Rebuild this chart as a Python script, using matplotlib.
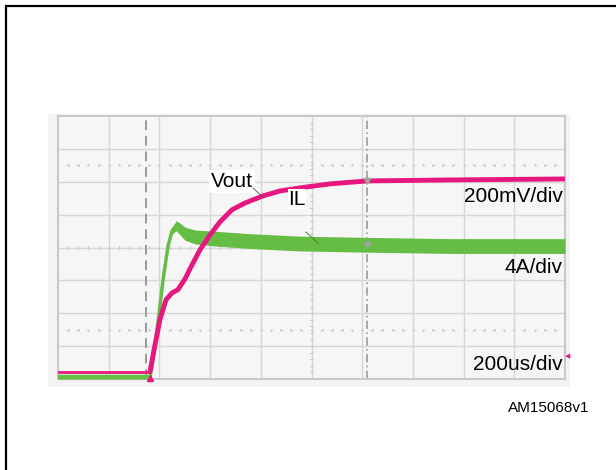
import matplotlib.pyplot as plt
import matplotlib.patches as patches
import numpy as np

plt.rcParams['font.family'] = ['Liberation Sans', 'DejaVu Sans']

# Scope settings
t_per_div = 200.0      # us/div
v_per_div = 0.2        # V/div
i_per_div = 4.0        # A/div
t_left = -363.0        # time at left edge of screen (trigger at 0)
vout_ground = 0.22     # ground marker position, divisions from bottom
il_ground = 0.07

# Vout trace (time in us, volts)
vout_t = [-363, 0, 12, 39, 63, 87, 110, 138, 166, 197, 237, 276, 323,
          375, 446, 513, 592, 710, 856, 1183, 1637]
vout_v = [0.0, 0.0, 0.103, 0.316, 0.438, 0.480, 0.499, 0.565, 0.651, 0.742,
          0.833, 0.912, 0.985, 1.027, 1.070, 1.100, 1.119, 1.143, 1.161,
          1.167, 1.173]

# Inductor current trace (time in us, amps) and ripple half-width
il_t = [-363, 0, 12, 32, 51, 71, 87, 103, 118, 138, 178, 256, 394, 592,
        856, 1183, 1637]
il_a = [0.0, 0.0, 1.95, 6.8, 11.7, 15.9, 17.75, 18.36, 18.0, 17.4, 17.0,
        16.8, 16.5, 16.2, 16.05, 15.9, 15.9]
il_ripple = [0.3, 0.3, 0.1, 0.1, 0.1, 0.2, 0.4, 0.6, 0.7, 0.8, 0.85,
             0.9, 0.9, 0.9, 0.9, 0.9, 0.9]

cursor1_t = -16
cursor2_t = 856

pink = '#E6187F'
green = '#66BD45'
gridc = '#D6D6D6'


def main():
    fig = plt.figure(figsize=(6.16, 4.70), dpi=100)
    W, H = 616.0, 470.0

    # outer frame (top and left visible)
    fig.add_artist(patches.Rectangle((6 / W, -0.1), 1.2, (H - 6) / H + 0.1,
                                     transform=fig.transFigure, fill=False,
                                     edgecolor='black', linewidth=1.6,
                                     zorder=-2))
    # light gray scope panel
    fig.add_artist(patches.Rectangle((48 / W, (H - 387) / H), 522 / W, 273 / H,
                                     transform=fig.transFigure,
                                     facecolor='#F3F3F3', edgecolor='none',
                                     zorder=-1))

    ax = fig.add_axes([58 / W, (H - 379) / H, 507 / W, 263 / H])
    ax.set_facecolor('#F6F6F6')
    t_right = t_left + 10 * t_per_div
    ax.set_xlim(t_left, t_right)
    ax.set_ylim(0, 8)
    ax.set_xticks([])
    ax.set_yticks([])
    for s in ax.spines.values():
        s.set_color('#C9C9C9')
        s.set_linewidth(1.5)

    # graticule
    for k in range(1, 10):
        ax.axvline(t_left + k * t_per_div, color=gridc, lw=1.0, zorder=1)
    for k in range(1, 8):
        ax.axhline(k, color=gridc, lw=1.0, zorder=1)

    # minor ticks on centre axes and dotted lines
    xt = t_left + np.arange(1, 50) * t_per_div / 5
    ax.vlines(xt, 4 - 0.05, 4 + 0.05, color='#C4C4C4', lw=0.8, zorder=1)
    ax.plot(xt, np.full(xt.size, 1.5), ls='none', marker='s', ms=0.8,
            color='#CCCCCC', zorder=1)
    ax.plot(xt, np.full(xt.size, 6.5), ls='none', marker='s', ms=0.8,
            color='#CCCCCC', zorder=1)
    yt = np.arange(1, 40) / 5
    tc = t_left + 5 * t_per_div
    ax.hlines(yt, tc - 4, tc + 4, color='#C4C4C4', lw=0.8, zorder=1)

    # cursors
    ax.axvline(cursor1_t, color='#9A9A9A', lw=1.4, ls=(0, (5, 3)), zorder=2)
    ax.axvline(cursor2_t, color='#9A9A9A', lw=1.2, ls=(0, (5, 2, 1, 2)),
               zorder=2)

    # traces
    il = np.array(il_a) / i_per_div + il_ground
    rip = np.array(il_ripple) / i_per_div
    ax.fill_between(il_t, il - rip, il + rip, color=green, lw=0, zorder=3)
    ax.plot(il_t, il, color=green, lw=2.5, zorder=3)

    vo = np.array(vout_v) / v_per_div + vout_ground
    ax.plot(vout_t[:2], vo[:2], color=pink, lw=2.0, zorder=4)
    ax.plot(vout_t[1:], vo[1:], color=pink, lw=3.5, zorder=4,
            solid_capstyle='butt')

    # cursor markers
    ax.plot([cursor2_t], [vo[-3]], marker='v', ms=5, color='#A0A0A0', zorder=5)
    ax.plot([cursor2_t], [il[-3]], marker='v', ms=5, color='#A0A0A0', zorder=5)
    ax.plot([0], [0.04], marker='^', ms=5, color=pink, zorder=5, clip_on=False)

    # labels
    ax.text(240, 6.0, 'Vout', fontsize=15, ha='left', va='center',
            bbox=dict(facecolor='white', edgecolor='none', pad=1.5), zorder=6)
    ax.plot([406, 446], [5.81, 5.53], color='#555555', lw=0.6, zorder=6)
    ax.text(545, 5.47, 'IL', fontsize=15, ha='left', va='center',
            bbox=dict(facecolor='white', edgecolor='none', pad=0.3), zorder=6)
    ax.plot([615, 663], [4.47, 4.13], color='#3E7A2A', lw=0.6, zorder=6)
    ax.text(0.995, 5.55, '200mV/div', transform=ax.get_yaxis_transform(),
            fontsize=15, ha='right', va='center', zorder=6)
    ax.text(0.995, 3.4, '4A/div', transform=ax.get_yaxis_transform(),
            fontsize=15, ha='right', va='center', zorder=6)
    ax.text(0.995, 0.45, '200us/div', transform=ax.get_yaxis_transform(),
            fontsize=15, ha='right', va='center', zorder=6)

    # right-side trigger level marker
    fig.text(568 / W, (H - 357) / H, '\u25C0', color=pink, fontsize=5,
             ha='center', va='center')

    fig.text(589 / W, (H - 408) / H, 'AM15068v1', fontsize=11,
             ha='right', va='center')

    fig.savefig('out.png', dpi=100)


if __name__ == '__main__':
    main()
